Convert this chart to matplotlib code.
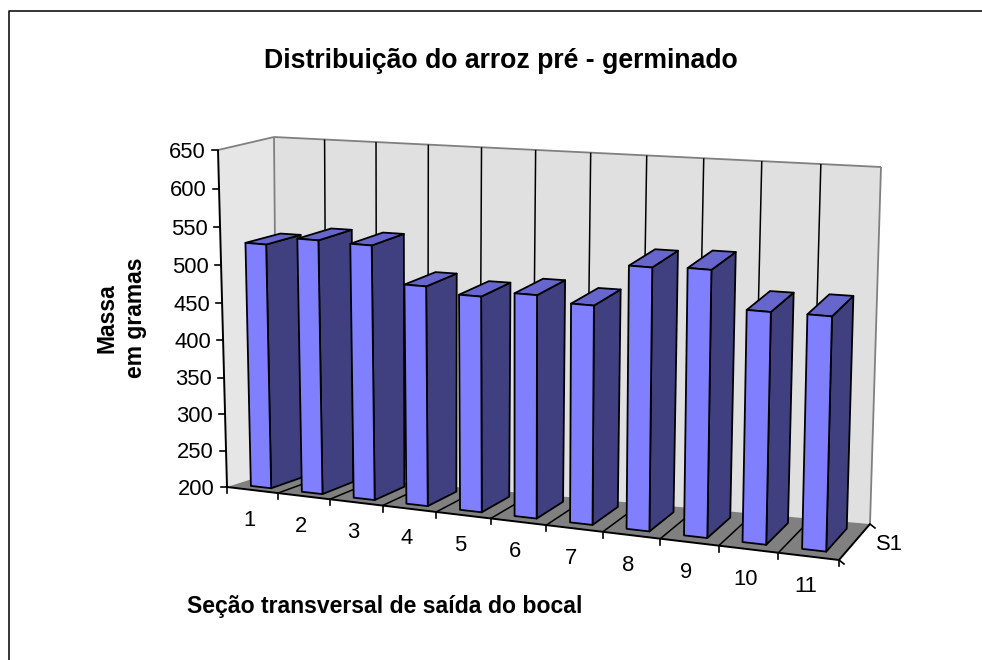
import matplotlib
matplotlib.use("Agg")
import matplotlib.pyplot as plt
from matplotlib.patches import Polygon
import numpy as np

# ---------------- data ----------------
categories = ["1", "2", "3", "4", "5", "6", "7", "8", "9", "10", "11"]
values = [528, 539, 538, 491, 484, 492, 485, 539, 542, 496, 497]
series_name = "S1"
z_ticks = [200, 250, 300, 350, 400, 450, 500, 550, 600, 650]
title = "Distribuição do arroz pré - germinado"
ylabel = "Massa\nem gramas"
xlabel = "Seção transversal de saída do bocal"

# ---------------- projection (Excel-like 3D view) ----------------
ZMIN, ZMAX = 200.0, 650.0
NCAT = len(categories)
corners = {
    (0, 0, 0): (227, 487), (1, 0, 0): (839, 560),
    (1, 1, 0): (870, 524), (0, 1, 0): (277, 471),
    (0, 0, 1): (218, 150), (1, 0, 1): (848, 197),
    (1, 1, 1): (881, 167), (0, 1, 1): (274, 137),
}
RX, RZ = 1.10, 1.04


def persp(t, r):
    return t / (r + t * (1 - r))


def proj(x, d, z):
    u = persp(x / NCAT, RX)
    w = persp((z - ZMIN) / (ZMAX - ZMIN), RZ)
    px = py = 0.0
    for (a, b, c), (cx, cy) in corners.items():
        wt = (u if a else 1 - u) * (d if b else 1 - d) * (w if c else 1 - w)
        px += wt * cx
        py += wt * cy
    return px, py


def poly(ax, pts, fc, ec="black", lw=1.3, z=1):
    xy = [proj(*p) for p in pts]
    ax.add_patch(Polygon(xy, closed=True, facecolor=fc, edgecolor=ec,
                         linewidth=lw, joinstyle="round", zorder=z))


def seg(ax, p0, p1, color="black", lw=1.1, z=2):
    a, b = proj(*p0), proj(*p1)
    ax.plot([a[0], b[0]], [a[1], b[1]], color=color, lw=lw, zorder=z,
            solid_capstyle="butt")


# ---------------- figure ----------------
W, H = 982, 660
fig = plt.figure(figsize=(W / 100, H / 100), dpi=100)
ax = fig.add_axes([0, 0, 1, 1])
ax.set_xlim(0, W)
ax.set_ylim(H, 0)
ax.axis("off")
FONT = "Liberation Sans"

# chart-area border (top & left visible)
ax.plot([9, 9, W], [H, 10.5, 10.5], color="black", lw=1.1, zorder=0)

WALL = "#E0E0E0"
EDGE = "#808080"
# walls and floor
poly(ax, [(0, 0, ZMIN), (0, 1, ZMIN), (0, 1, ZMAX), (0, 0, ZMAX)], "#E6E6E6", ec="none", z=1)
poly(ax, [(0, 1, ZMIN), (NCAT, 1, ZMIN), (NCAT, 1, ZMAX), (0, 1, ZMAX)], WALL, ec="none", z=1)
poly(ax, [(0, 0, ZMIN), (NCAT, 0, ZMIN), (NCAT, 1, ZMIN), (0, 1, ZMIN)], "#808080", ec="none", z=1)
seg(ax, (0, 0, ZMAX), (0, 1, ZMAX), EDGE, 1.3, 2)
seg(ax, (0, 1, ZMAX), (NCAT, 1, ZMAX), EDGE, 1.3, 2)
seg(ax, (NCAT, 1, ZMAX), (NCAT, 1, ZMIN), EDGE, 1.3, 2)
seg(ax, (0, 1, ZMAX), (0, 1, ZMIN), EDGE, 1.3, 2)

# category gridlines on floor and back wall
for k in range(1, NCAT):
    seg(ax, (k, 0, ZMIN), (k, 1, ZMIN), "black", 1.1, 2)
    seg(ax, (k, 1, ZMIN), (k, 1, ZMAX), "black", 1.1, 2)

# axes lines
seg(ax, (0, 0, ZMIN), (0, 0, ZMAX), "black", 1.4, 3)
seg(ax, (0, 0, ZMIN), (NCAT, 0, ZMIN), "black", 1.4, 3)
seg(ax, (NCAT, 0, ZMIN), (NCAT, 1, ZMIN), "black", 1.4, 3)

# value ticks + labels
for zv in z_ticks:
    x0, y0 = proj(0, 0, zv)
    ax.plot([x0 - 6, x0], [y0, y0], color="black", lw=1.2, zorder=3)
    ax.text(x0 - 12, y0 + 7.6, str(zv), ha="right", va="baseline",
            fontsize=15.8, family=FONT, zorder=5)

# category ticks + labels
for k in range(NCAT + 1):
    x0, y0 = proj(k, 0, ZMIN)
    ax.plot([x0, x0], [y0, y0 + 6], color="black", lw=1.2, zorder=3)
for i, lab in enumerate(categories):
    x0, y0 = proj(i + 0.5, 0, ZMIN)
    ax.text(x0 - 3, y0 + 28 + 7.6, lab, ha="center", va="baseline",
            fontsize=15.8, family=FONT, zorder=5)

# depth ticks + series label
for dv in (0, 1):
    x0, y0 = proj(NCAT, dv, ZMIN)
    ax.plot([x0, x0 + 5], [y0, y0 + 4], color="black", lw=1.2, zorder=3)
xs, ys = proj(NCAT, 0.5, ZMIN)
ax.text(xs + 35, ys + 7.6, series_name, ha="center", va="baseline",
        fontsize=15.8, family=FONT, zorder=5)

# bars
FRONT, SIDE, TOP = "#8080FF", "#404080", "#6666CC"
BW0, BW1 = 0.3, 0.7
D0, D1 = 0.175, 0.825
for i, v in enumerate(values):
    x0, x1 = i + BW0, i + BW1
    zb = 10 + i * 3
    poly(ax, [(x1, D0, ZMIN), (x1, D1, ZMIN), (x1, D1, v), (x1, D0, v)], SIDE, z=zb)
    poly(ax, [(x0, D0, v), (x1, D0, v), (x1, D1, v), (x0, D1, v)], TOP, z=zb + 1)
    poly(ax, [(x0, D0, ZMIN), (x1, D0, ZMIN), (x1, D0, v), (x0, D0, v)], FRONT, z=zb + 2)

# titles (font size fitted to the reference text widths)
renderer = fig.canvas.get_renderer()


def fitted_text(x, y, s, width, size0, **kw):
    t = ax.text(x, y, s, fontsize=size0, **kw)
    wpx = t.get_window_extent(renderer).width
    t.set_fontsize(size0 * width / wpx)
    return t


fitted_text(501, 68, title, 477, 17, ha="center", va="baseline",
            family=FONT, weight="bold", zorder=5)
fitted_text(385, 613, xlabel, 394, 16.5, ha="center", va="baseline",
            family=FONT, weight="bold", zorder=5)
ax.text(121, 318, ylabel, ha="center", va="center", rotation=90,
        multialignment="center", fontsize=16.5, family=FONT,
        weight="bold", linespacing=1.3, zorder=5)

fig.savefig("out.png", dpi=100)
